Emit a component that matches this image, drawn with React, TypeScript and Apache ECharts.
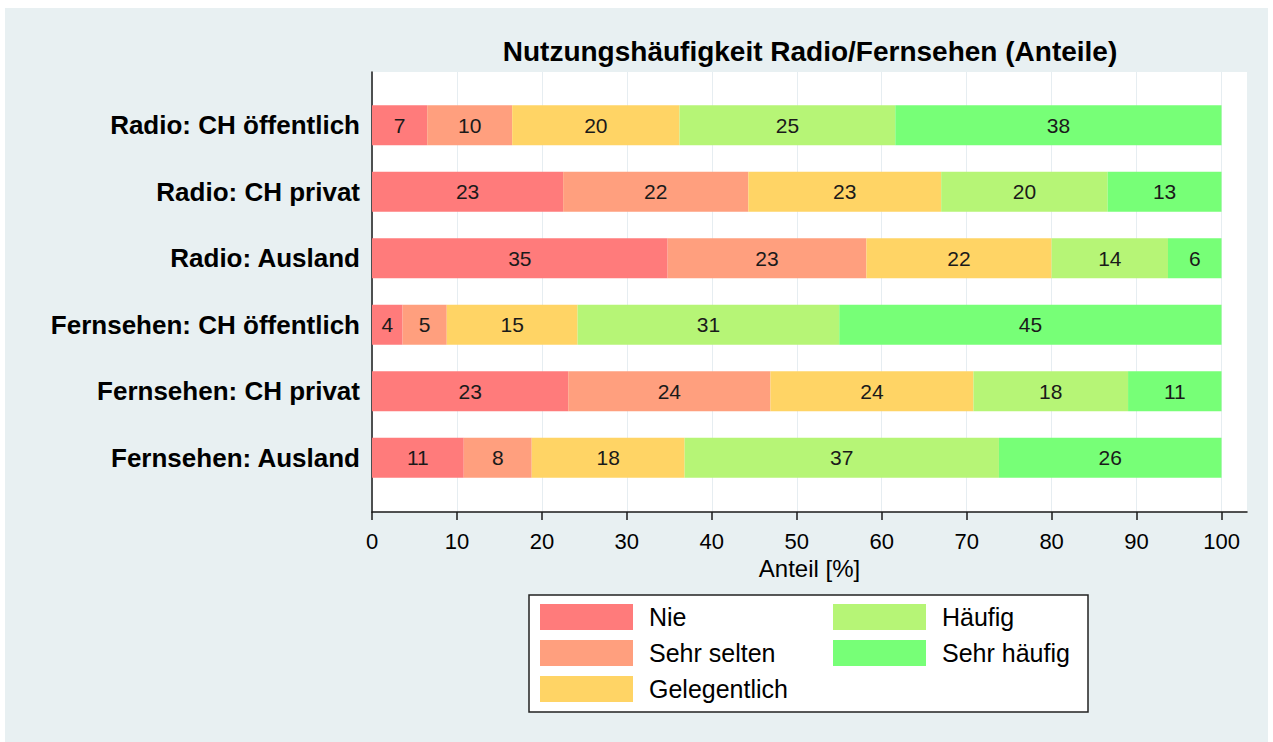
import React, { useEffect, useRef } from "react";
import * as echarts from "echarts";

const FONT = '"Liberation Sans", Arial, Helvetica, sans-serif';

const titleText = "Nutzungshäufigkeit Radio/Fernsehen (Anteile)";
const axisTitle = "Anteil [%]";
const categories = [
  "Radio: CH öffentlich",
  "Radio: CH privat",
  "Radio: Ausland",
  "Fernsehen: CH öffentlich",
  "Fernsehen: CH privat",
  "Fernsehen: Ausland",
];
const seriesNames = ["Nie", "Sehr selten", "Gelegentlich", "Häufig", "Sehr häufig"];
const nie = [6.5, 22.5, 34.8, 3.6, 23.1, 10.8];
const sehrSelten = [10.0, 21.8, 23.4, 5.2, 23.8, 8.0];
const gelegentlich = [19.7, 22.7, 21.8, 15.4, 23.9, 18.0];
const haeufig = [25.4, 19.6, 13.7, 30.8, 18.2, 37.0];
const sehrHaeufig = [38.4, 13.4, 6.3, 45.0, 11.0, 26.2];
const tickValues = [0, 10, 20, 30, 40, 50, 60, 70, 80, 90, 100];
const colors = ["#ff7b7b", "#ff9f7e", "#ffd465", "#b6f576", "#77ff77"];

const seriesData = [nie, sehrSelten, gelegentlich, haeufig, sehrHaeufig];
const X_MAX = 103;

function buildOption(): any {
  const legendCommon = {
    orient: "vertical",
    top: 599,
    itemWidth: 93,
    itemHeight: 26,
    itemGap: 10,
    icon: "rect",
    selectedMode: false,
    textStyle: { fontSize: 25, color: "#000", fontFamily: FONT, padding: [0, 0, 0, 11] },
  };
  return {
    animation: false,
    backgroundColor: "#ffffff",
    textStyle: { fontFamily: FONT },
    graphic: [
      {
        type: "rect",
        z: -100,
        silent: true,
        shape: { x: 5, y: 8, width: 1263, height: 734 },
        style: { fill: "#e8f0f2" },
      },
      {
        type: "rect",
        z: -50,
        silent: true,
        shape: { x: 372, y: 72, width: 875, height: 440 },
        style: { fill: "#ffffff" },
      },
      {
        type: "text",
        x: 810,
        y: 51,
        silent: true,
        style: {
          text: titleText,
          fill: "#000",
          font: `bold 28px ${FONT}`,
          align: "center",
          verticalAlign: "middle",
        },
      },
      {
        type: "rect",
        z: -10,
        silent: true,
        shape: { x: 529, y: 595, width: 559, height: 117 },
        style: { fill: "#ffffff", stroke: "#222", lineWidth: 1.5 },
      },
    ],
    legend: [
      { ...legendCommon, data: seriesNames.slice(0, 3), left: 535 },
      { ...legendCommon, data: seriesNames.slice(3), left: 828 },
    ],
    grid: [
      { left: 372, right: 26, top: 72, bottom: 230, containLabel: false },
      { left: 372, right: 26, top: 92, bottom: 251, containLabel: false },
    ],
    xAxis: [
      {
        gridIndex: 0,
        type: "value",
        min: 0,
        max: X_MAX,
        interval: 10,
        name: axisTitle,
        nameLocation: "middle",
        nameGap: 38,
        nameTextStyle: { fontSize: 24, color: "#000", fontFamily: FONT },
        axisLine: { show: true, lineStyle: { color: "#1a1a1a", width: 1.5 } },
        axisTick: {
          show: true,
          length: 8,
          customValues: tickValues,
          lineStyle: { color: "#1a1a1a", width: 1.5 },
        },
        axisLabel: {
          show: true,
          customValues: tickValues,
          margin: 18,
          fontSize: 22,
          color: "#000",
          fontFamily: FONT,
        },
        splitLine: { show: true, lineStyle: { color: "#e6edf1", width: 1 } },
      },
      {
        gridIndex: 1,
        type: "value",
        min: 0,
        max: X_MAX,
        show: false,
        splitLine: { show: false },
      },
    ],
    yAxis: [
      {
        gridIndex: 0,
        type: "value",
        min: 0,
        max: 1,
        axisLine: { show: true, onZero: false, lineStyle: { color: "#1a1a1a", width: 1.5 } },
        axisTick: { show: false },
        axisLabel: { show: false },
        splitLine: { show: false },
      },
      {
        gridIndex: 1,
        type: "category",
        data: categories,
        inverse: true,
        axisLine: { show: false },
        axisTick: { show: false },
        splitLine: { show: false },
        axisLabel: {
          margin: 12,
          fontSize: 26,
          fontWeight: "bold",
          color: "#000",
          fontFamily: FONT,
        },
      },
    ],
    series: seriesNames.map((name, i) => ({
      name,
      type: "bar",
      stack: "total",
      xAxisIndex: 1,
      yAxisIndex: 1,
      barWidth: 40,
      silent: true,
      itemStyle: { color: colors[i] },
      label: {
        show: true,
        position: "inside",
        color: "#1a1a1a",
        fontSize: 21,
        fontFamily: FONT,
        formatter: (p: any) => String(Math.round(p.value)),
      },
      emphasis: { disabled: true },
      data: seriesData[i],
    })),
  };
}

export default function App() {
  const ref = useRef<HTMLDivElement>(null);
  useEffect(() => {
    if (!ref.current) return;
    const chart = echarts.init(ref.current, null, { renderer: "svg" });
    chart.setOption(buildOption());
    return () => chart.dispose();
  }, []);
  return (
    <div
      ref={ref}
      style={{ position: "absolute", left: 0, top: 0, width: 1273, height: 742, background: "#fff" }}
    />
  );
}
